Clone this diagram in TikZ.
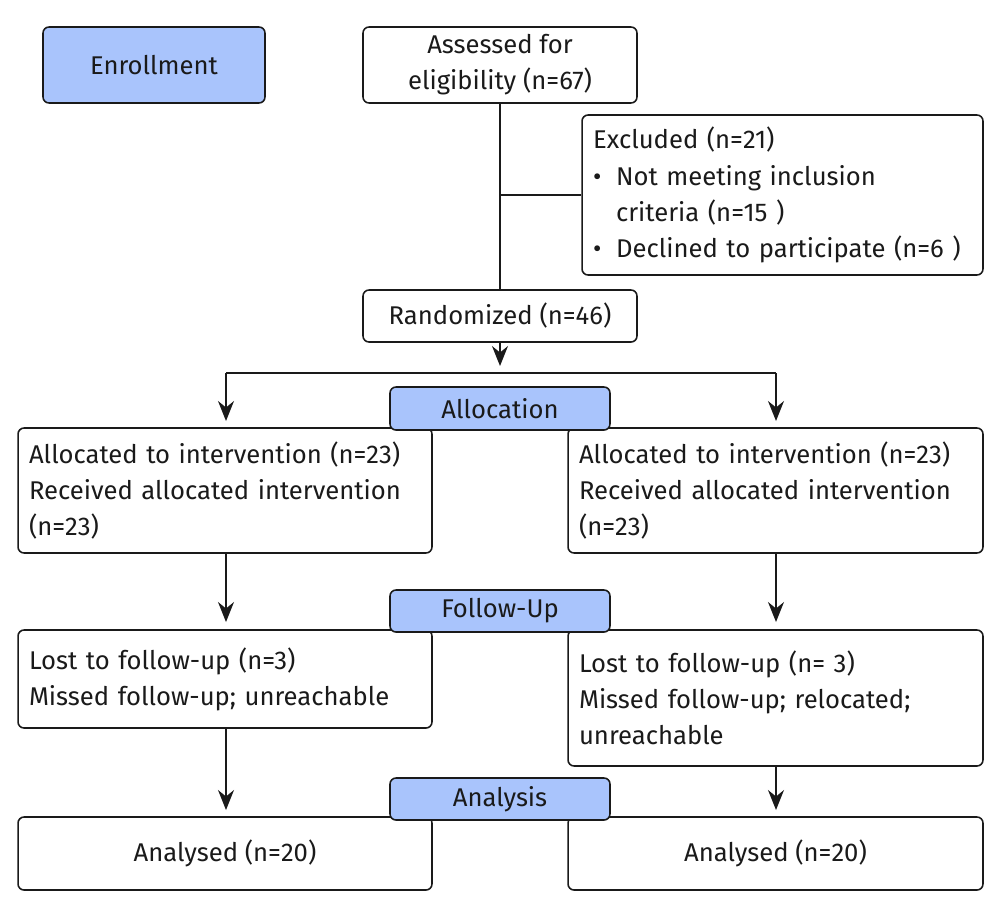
\documentclass[tikz,border=0pt]{standalone}
\usepackage{fontspec}
\setmainfont{Fira Sans}
\usetikzlibrary{arrows.meta}
\definecolor{lblue}{HTML}{A9C4FC}
\definecolor{ink}{HTML}{1A1A1A}
\begin{document}
\fontsize{14.6}{20.6}\selectfont
\begin{tikzpicture}[x=0.02cm,y=-0.02cm,
  box/.style={draw=ink, rounded corners=0.12cm, line width=0.9pt, fill=white, text=ink, inner ysep=0pt},
  lbox/.style={box, align=left, inner xsep=0.22cm},
  cbox/.style={box, align=center},
  tag/.style={cbox, fill=lblue},
  line/.style={draw=ink, line width=0.9pt},
  arr/.style={line, -{Stealth[length=0.4cm,width=0.32cm]}}]
\useasboundingbox (0,0) rectangle (1000,913);
\node[tag, minimum width=4.44cm, minimum height=1.52cm] (enr) at (154,65) {Enrollment};
\node[cbox, minimum width=5.48cm, minimum height=1.52cm] (ass) at (500,65) {Assessed for\\eligibility (n=67)};
\node[lbox, text width=7.58cm, minimum height=3.2cm] (exc) at (782.5,195) {Excluded (n=21)\\
\makebox[0.46cm][l]{•}Not meeting inclusion\\
\hspace*{0.46cm}criteria (n=15 )\\
\makebox[0.46cm][l]{•}Declined to participate (n=6 )};
\node[cbox, minimum width=5.48cm, minimum height=1.04cm] (ran) at (500,316) {Randomized (n=46)};
\coordinate (j) at (500,195);
\draw[line] (ass.south) -- (ran.north);
\draw[line] (j) -- (exc.west |- j);
\draw[arr] (ran.south) -- (500,366);
\node[lbox, text width=7.84cm, minimum height=2.5cm] (la) at (225,490.5) {Allocated to intervention (n=23)\\Received allocated intervention\\(n=23)};
\node[lbox, text width=7.86cm, minimum height=2.5cm] (ra) at (775.5,490.5) {Allocated to intervention (n=23)\\Received allocated intervention\\(n=23)};
\draw[line] (226,373) -- (776,373);
\draw[arr] (226,373) -- (226,421);
\draw[arr] (776,373) -- (776,421);
\node[tag, minimum width=4.4cm, minimum height=0.86cm] (alloc) at (500,408.5) {Allocation};
\node[lbox, text width=7.84cm, minimum height=1.96cm] (ll) at (225,679) {Lost to follow-up (n=3)\\Missed follow-up; unreachable};
\node[lbox, text width=7.86cm, minimum height=2.72cm] (rl) at (775.5,698) {Lost to follow-up (n= 3)\\Missed follow-up; relocated;\\unreachable};
\draw[arr] (la.south -| 226,0) -- (226,622);
\draw[arr] (ra.south -| 776,0) -- (776,622);
\node[tag, minimum width=4.4cm, minimum height=0.84cm] (fu) at (500,611) {Follow-Up};
\node[cbox, minimum width=8.28cm, minimum height=1.46cm] (lan) at (225,853.5) {Analysed (n=20)};
\node[cbox, minimum width=8.3cm, minimum height=1.46cm] (ran2) at (775.5,853.5) {Analysed (n=20)};
\draw[arr] (ll.south -| 226,0) -- (226,810);
\draw[arr] (rl.south -| 776,0) -- (776,810);
\node[tag, minimum width=4.4cm, minimum height=0.84cm] (an) at (500,799) {Analysis};
\end{tikzpicture}
\end{document}
